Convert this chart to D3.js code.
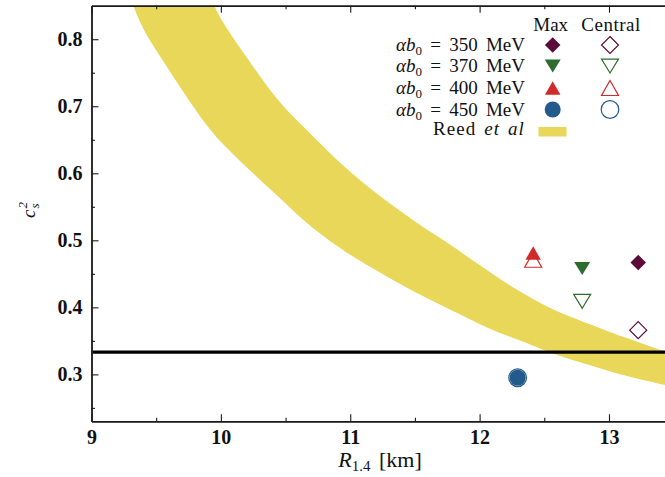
<!DOCTYPE html>
<html>
<head>
<meta charset="utf-8">
<script src="https://cdn.jsdelivr.net/npm/d3@7"></script>
<style>
html,body{margin:0;padding:0;background:#fff;}
svg{display:block;}
</style>
</head>
<body>
<svg id="chart" width="665" height="477"></svg>
<script>
// ---------- data ----------
const groupLabels = ["350", "370", "400", "450"];
const maxR   = [13.226, 12.793, 12.414, 12.294];
const maxCs2 = [0.467, 0.458, 0.481, 0.295];
const cenR   = [13.226, 12.793, 12.414, 12.294];
const cenCs2 = [0.366, 0.409, 0.471, 0.295];
const groupColors = ["#5c0a38", "#2e6b2e", "#d02a2a", "#235a8c"];
const groupShapes = ["diamond", "down", "up", "circle"];

// Reed et al band: upper (right) edge and lower (left) edge
const bandUpperR = [9.89, 9.95, 10.225, 10.457, 10.714, 10.972, 11.23, 11.487, 11.745, 12.0, 12.2, 12.4, 12.6, 12.917, 13.11, 13.433, 13.6];
const bandUpperC = [0.90, 0.85, 0.766, 0.706, 0.655, 0.607, 0.566, 0.530, 0.497, 0.463, 0.437, 0.414, 0.394, 0.370, 0.356, 0.334, 0.323];
const bandLowerR = [9.23, 9.323, 9.40, 9.529, 9.89, 10.045, 10.405, 10.714, 10.972, 11.23, 11.5, 11.886, 12.08, 12.4, 12.6, 12.917, 13.11, 13.433, 13.6];
const bandLowerC = [0.90, 0.85, 0.816, 0.775, 0.672, 0.638, 0.572, 0.518, 0.482, 0.452, 0.423, 0.386, 0.368, 0.344, 0.329, 0.310, 0.299, 0.284, 0.277];

const conformalLimit = 1 / 3;
const xMajor = [9, 10, 11, 12, 13];
const xMinor = [9.5, 10.5, 11.5, 12.5];
const yMajor = [0.3, 0.4, 0.5, 0.6, 0.7, 0.8];
const yMinor = [0.25, 0.35, 0.45, 0.55, 0.65, 0.75];

// ---------- layout ----------
const svg = d3.select("#chart");
const L = 91.5, T = 5.7, R = 665, B = 421.3;
const x = d3.scaleLinear().domain([9, 13.433]).range([L, R]);
const y = d3.scaleLinear().domain([0.23, 0.85]).range([B, T]);
const serif = "'Liberation Serif', 'Times New Roman', serif";

svg.append("defs").append("clipPath").attr("id", "plotclip")
  .append("rect").attr("x", L).attr("y", T).attr("width", R - L).attr("height", B - T);

const plot = svg.append("g").attr("clip-path", "url(#plotclip)");

// band polygon (smoothed edges)
const edge = d3.line().x(d => x(d[0])).y(d => y(d[1])).curve(d3.curveCatmullRom.alpha(0.5));
const upperPts = bandUpperR.map((r, i) => [r, bandUpperC[i]]);
const lowerPts = bandLowerR.map((r, i) => [r, bandLowerC[i]]).reverse();
const bandColor = "#e8d758";
plot.append("path")
  .attr("d", edge(upperPts) + "L" + edge(lowerPts).slice(1) + "Z")
  .attr("fill", bandColor);

// conformal limit line
plot.append("line")
  .attr("x1", L).attr("x2", R)
  .attr("y1", y(conformalLimit)).attr("y2", y(conformalLimit))
  .attr("stroke", "#000").attr("stroke-width", 3.2);

// custom symbol types (bounding-box centred)
function symType(shape) {
  return {
    draw(ctx, size) {
      const w = Math.sqrt(size);
      const h = w / 2;
      if (shape === "diamond") {
        ctx.moveTo(0, -h); ctx.lineTo(h, 0); ctx.lineTo(0, h); ctx.lineTo(-h, 0); ctx.closePath();
      } else if (shape === "up") {
        const hh = h * 0.88;
        ctx.moveTo(0, -hh); ctx.lineTo(h, hh); ctx.lineTo(-h, hh); ctx.closePath();
      } else if (shape === "down") {
        const hh = h * 0.82;
        ctx.moveTo(0, hh); ctx.lineTo(h, -hh); ctx.lineTo(-h, -hh); ctx.closePath();
      } else {
        ctx.moveTo(h, 0); ctx.arc(0, 0, h, 0, 2 * Math.PI);
      }
    }
  };
}
const filledSize = [15.5 * 15.5, 16 * 16, 15.5 * 15.5, 16 * 16];
const openSize = [17 * 17, 17 * 17, 17 * 17, 17.6 * 17.6];

const marks = svg.append("g");
// central (open) first, then max (filled) on top
groupLabels.forEach((g, i) => {
  marks.append("path")
    .attr("transform", `translate(${x(cenR[i])},${y(cenCs2[i])})`)
    .attr("d", d3.symbol().type(symType(groupShapes[i])).size(openSize[i])())
    .attr("fill", "none").attr("stroke", groupColors[i]).attr("stroke-width", 1.2);
});
groupLabels.forEach((g, i) => {
  marks.append("path")
    .attr("transform", `translate(${x(maxR[i])},${y(maxCs2[i])})`)
    .attr("d", d3.symbol().type(symType(groupShapes[i])).size(filledSize[i])())
    .attr("fill", groupColors[i]);
});

// ---------- axes ----------
function styleAxis(g) {
  g.selectAll("path.domain").attr("stroke", "#1a1a1a").attr("stroke-width", 1.4);
  g.selectAll(".tick line").attr("stroke", "#1a1a1a").attr("stroke-width", 1.1);
  g.selectAll("text").attr("font-family", serif).attr("font-size", 20)
    .attr("font-weight", "bold").attr("fill", "#111");
}
const fmt = d3.format(".1f");
// left
svg.append("g").attr("transform", `translate(${L},0)`)
  .call(d3.axisLeft(y).tickValues(yMajor).tickFormat(fmt).tickSize(-7).tickPadding(9).tickSizeOuter(0))
  .call(styleAxis);
svg.append("g").attr("transform", `translate(${L},0)`)
  .call(d3.axisLeft(y).tickValues(yMinor).tickFormat("").tickSize(-3.5).tickSizeOuter(0))
  .call(styleAxis);
// bottom
svg.append("g").attr("transform", `translate(0,${B})`)
  .call(d3.axisBottom(x).tickValues(xMajor).tickFormat(d3.format("d")).tickSize(-7).tickPadding(9).tickSizeOuter(0))
  .call(styleAxis);
svg.append("g").attr("transform", `translate(0,${B})`)
  .call(d3.axisBottom(x).tickValues(xMinor).tickFormat("").tickSize(-3.5).tickSizeOuter(0))
  .call(styleAxis);
// top
svg.append("g").attr("transform", `translate(0,${T})`)
  .call(d3.axisTop(x).tickValues(xMajor).tickFormat("").tickSize(-7).tickSizeOuter(0))
  .call(styleAxis);
svg.append("g").attr("transform", `translate(0,${T})`)
  .call(d3.axisTop(x).tickValues(xMinor).tickFormat("").tickSize(-3.5).tickSizeOuter(0))
  .call(styleAxis);

// axis labels
const xl = svg.append("text").attr("x", 380).attr("y", 467).attr("text-anchor", "middle")
  .attr("font-family", serif).attr("font-size", 22).attr("fill", "#111");
xl.append("tspan").attr("font-style", "italic").text("R");
xl.append("tspan").attr("font-size", 15).attr("dy", 4).text("1.4");
xl.append("tspan").attr("dy", -4).attr("word-spacing", 3).text(" [km]");

const yl = svg.append("text").attr("transform", "translate(35,210) rotate(-90)")
  .attr("text-anchor", "middle").attr("font-family", serif).attr("font-size", 19).attr("fill", "#111");
yl.append("tspan").attr("font-style", "italic").text("c");
yl.append("tspan").attr("font-size", 13).attr("font-style", "italic").attr("dy", -8).attr("dx", 1).text("2");
yl.append("tspan").attr("font-size", 13).attr("font-style", "italic").attr("dy", 12).attr("dx", -6.5).text("s");

// ---------- legend ----------
const lg = svg.append("g").attr("font-family", serif).attr("fill", "#111");
const colMax = 552.7, colCen = 610, textRight = 525;
lg.append("text").attr("x", colMax - 2).attr("y", 31).attr("text-anchor", "middle").attr("font-size", 19).text("Max");
lg.append("text").attr("x", colCen + 1).attr("y", 31).attr("text-anchor", "middle").attr("font-size", 19)
  .attr("letter-spacing", 0.5).text("Central");
const rowY = [45, 66, 88, 109.5];
groupLabels.forEach((g, i) => {
  const t = lg.append("text").attr("x", textRight).attr("y", rowY[i] + 6)
    .attr("text-anchor", "end").attr("font-size", 19).attr("word-spacing", 3.5);
  t.append("tspan").attr("font-style", "italic").text("αb");
  t.append("tspan").attr("font-size", 13).attr("dy", 4).text("0");
  t.append("tspan").attr("dy", -4).text(" = " + g + " MeV");
  lg.append("path")
    .attr("transform", `translate(${colMax},${rowY[i]})`)
    .attr("d", d3.symbol().type(symType(groupShapes[i])).size(filledSize[i])())
    .attr("fill", groupColors[i]);
  lg.append("path")
    .attr("transform", `translate(${colCen},${rowY[i]})`)
    .attr("d", d3.symbol().type(symType(groupShapes[i])).size(openSize[i])())
    .attr("fill", "none").attr("stroke", groupColors[i]).attr("stroke-width", 1.2);
});
const rt = lg.append("text").attr("x", textRight).attr("y", 134.5).attr("text-anchor", "end")
  .attr("font-size", 19).attr("word-spacing", 2).attr("letter-spacing", 1.1);
rt.append("tspan").text("Reed ");
rt.append("tspan").attr("font-style", "italic").text("et al");
lg.append("rect").attr("x", 538.5).attr("y", 127).attr("width", 28).attr("height", 9.5).attr("fill", bandColor);
</script>
</body>
</html>
